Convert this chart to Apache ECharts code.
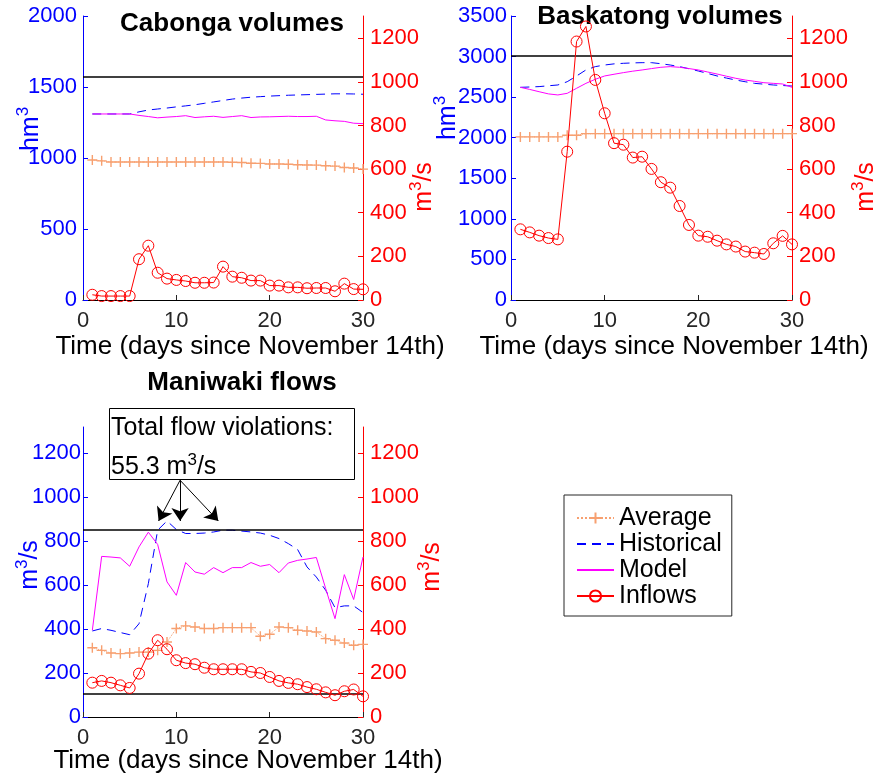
<!DOCTYPE html>
<html>
<head>
<meta charset="utf-8">
<title>Cabonga, Baskatong and Maniwaki</title>
<script src="https://cdn.jsdelivr.net/npm/echarts@6/dist/echarts.min.js"></script>
<style>
  html, body { margin: 0; padding: 0; background: #fff; }
  #chart { width: 878px; height: 781px; }
</style>
</head>
<body>
<div id="chart"></div>
<script>
  // days since November 14th
  var days = [1, 2, 3, 4, 5, 6, 7, 8, 9, 10, 11, 12, 13, 14, 15, 16, 17, 18, 19, 20,
    21, 22, 23, 24, 25, 26, 27, 28, 29, 30];

  // Cabonga (hm3 on the left, inflows m3/s on the right)
  var cabongaAverage = [986, 980, 972, 972, 972, 972, 972, 972, 972, 972, 972, 972, 972, 972, 972,
    970, 968, 963, 962, 958, 958, 956, 952, 951, 950, 945, 943, 933, 930, 922];
  var cabongaHistorical = [1310, 1310, 1310, 1310, 1310, 1325, 1338, 1345, 1352, 1360, 1367, 1375,
    1385, 1395, 1405, 1415, 1422, 1428, 1432, 1436, 1439, 1442, 1444, 1446, 1448, 1450, 1452, 1452,
    1451, 1449];
  var cabongaModel = [1310, 1310, 1310, 1310, 1310, 1300, 1292, 1283, 1288, 1292, 1298, 1285, 1290,
    1294, 1286, 1292, 1298, 1285, 1289, 1290, 1292, 1294, 1292, 1292, 1294, 1268, 1262, 1258, 1245,
    1242];
  var cabongaInflows = [24, 18, 18, 18, 18, 187, 249, 125, 98, 92, 87, 79, 79, 80, 153, 107, 102, 89,
    89, 66, 66, 58, 58, 54, 55, 55, 40, 75, 50, 49];
  var cabongaMax = 1570;

  // Baskatong
  var baskatongAverage = [2010, 2010, 2010, 2010, 2010, 2030, 2030, 2050, 2050, 2050, 2050, 2050,
    2050, 2050, 2050, 2050, 2050, 2050, 2050, 2050, 2050, 2050, 2050, 2050, 2050, 2050, 2050, 2050,
    2050, 2050];
  var baskatongHistorical = [2621, 2625, 2630, 2640, 2650, 2690, 2761, 2835, 2876, 2896, 2910, 2917,
    2922, 2925, 2925, 2912, 2896, 2876, 2850, 2822, 2792, 2761, 2735, 2711, 2690, 2670, 2660, 2650,
    2643, 2637];
  var baskatongModel = [2621, 2595, 2567, 2540, 2527, 2547, 2609, 2670, 2720, 2761, 2782, 2802, 2820,
    2835, 2852, 2868, 2876, 2868, 2852, 2835, 2810, 2785, 2758, 2732, 2711, 2695, 2678, 2670, 2662,
    2621];
  var baskatongInflows = [324, 310, 295, 284, 278, 680, 1185, 1254, 1009, 856, 719, 712, 653, 657, 601,
    540, 515, 431, 344, 295, 290, 272, 255, 245, 222, 217, 211, 260, 294, 255];
  var baskatongMax = 3015;

  // Maniwaki (m3/s on both sides)
  var maniwakiAverage = [315, 303, 291, 288, 291, 295, 295, 303, 341, 402, 414, 409, 402, 402, 406,
    406, 406, 406, 367, 376, 409, 406, 394, 391, 386, 356, 349, 336, 326, 330];
  var maniwakiHistorical = [391, 402, 394, 384, 374, 424, 606, 849, 891, 852, 834, 834, 836, 841, 849,
    849, 845, 841, 836, 826, 811, 788, 761, 682, 636, 576, 497, 505, 505, 475];
  var maniwakiModel = [394, 730, 727, 723, 685, 773, 840, 784, 614, 553, 702, 659, 649, 679, 656, 679,
    679, 702, 685, 693, 656, 700, 712, 718, 725, 584, 447, 647, 534, 727];
  var maniwakiInflows = [156, 164, 156, 144, 132, 197, 288, 349, 308, 258, 245, 240, 224, 217, 217,
    217, 217, 205, 200, 182, 164, 155, 149, 136, 126, 112, 99, 117, 125, 94];
  var maniwakiLimits = [850, 105];

  // annotation arrows (day, m3/s)
  var arrowFrom = [10.4, 1076];
  var arrowTargets = [[8.1, 891], [10.4, 891], [14.5, 891]];

  var FONT = '"Liberation Sans", Arial, sans-serif';
  var ORANGE = '#F7A070';
  var BLUE = '#0000FF';
  var RED = '#FF0000';
  var MAGENTA = '#FF00FF';
  var PLUS = 'path://M0,5L10,5M5,0L5,10';

  function pairs (vals) {
    return vals.map(function (v, i) { return [days[i], v]; });
  }

  function averageSeries (ax, vals) {
    return {
      name: 'Average', type: 'line', xAxisIndex: ax, yAxisIndex: ax * 2,
      data: pairs(vals), symbol: PLUS, symbolSize: 10, showAllSymbol: true,
      lineStyle: { color: ORANGE, width: 1, type: 'dotted' },
      itemStyle: { color: ORANGE, borderColor: ORANGE, borderWidth: 1.4 },
      z: 3
    };
  }
  function historicalSeries (ax, vals) {
    return {
      name: 'Historical', type: 'line', xAxisIndex: ax, yAxisIndex: ax * 2,
      data: pairs(vals), symbol: 'none',
      lineStyle: { color: BLUE, width: 1, type: [9, 6] },
      itemStyle: { color: BLUE },
      z: 4
    };
  }
  function modelSeries (ax, vals) {
    return {
      name: 'Model', type: 'line', xAxisIndex: ax, yAxisIndex: ax * 2,
      data: pairs(vals), symbol: 'none',
      lineStyle: { color: MAGENTA, width: 1 },
      itemStyle: { color: MAGENTA },
      z: 4
    };
  }
  function inflowSeries (ax, vals) {
    return {
      name: 'Inflows', type: 'line', xAxisIndex: ax, yAxisIndex: ax * 2 + 1,
      data: pairs(vals), symbol: 'circle', symbolSize: 11, showAllSymbol: true,
      lineStyle: { color: RED, width: 1 },
      itemStyle: { color: 'rgba(255,255,255,0)', borderColor: RED, borderWidth: 1 },
      z: 5
    };
  }
  function limitSeries (ax, values) {
    return {
      name: 'limits', type: 'line', xAxisIndex: ax, yAxisIndex: ax * 2, data: [],
      markLine: {
        silent: true, symbol: 'none', animation: false,
        label: { show: false },
        lineStyle: { color: '#000', width: 1.5, type: 'solid' },
        emphasis: { disabled: true },
        data: values.map(function (v) { return { yAxis: v }; })
      }
    };
  }

  function plainNumber (v) { return String(v); }

  function xAxis (grid) {
    return {
      type: 'value', gridIndex: grid, min: 0, max: 30, interval: 10,
      axisLine: { show: true, lineStyle: { color: '#000', width: 1 } },
      axisTick: { show: true, inside: true, length: 5, lineStyle: { color: '#262626' } },
      axisLabel: { color: '#262626', fontSize: 22, fontFamily: FONT, margin: 10, formatter: plainNumber },
      splitLine: { show: false }
    };
  }
  function yAxis (grid, side, max, interval, margin, showMax) {
    var color = side === 'left' ? BLUE : RED;
    return {
      type: 'value', gridIndex: grid, position: side, min: 0, max: max, interval: interval,
      axisLine: { show: true, onZero: false, lineStyle: { color: color, width: 1 } },
      axisTick: { show: true, inside: true, length: 5, lineStyle: { color: color } },
      axisLabel: {
        color: color, fontSize: 22, fontFamily: FONT, margin: margin,
        padding: [8, 0, 0, 0],
        showMaxLabel: showMax, formatter: plainNumber
      },
      splitLine: { show: false }
    };
  }

  function rotName (x, y, text, sup, rest, color) {
    return {
      type: 'text', x: x, y: y, rotation: Math.PI / 2, silent: true,
      style: {
        text: '{a|' + text + '}{s|' + sup + '}{a|' + rest + '}',
        align: 'center', verticalAlign: 'middle',
        rich: {
          a: { fontSize: 25, fontFamily: FONT, fill: color, lineHeight: 32 },
          s: { fontSize: 17, fontFamily: FONT, fill: color, lineHeight: 18, verticalAlign: 'top' }
        }
      }
    };
  }
  function plainText (x, y, text, font, align) {
    return {
      type: 'text', x: x, y: y, silent: true,
      style: { text: text, font: font, fill: '#000', align: align || 'center', verticalAlign: 'middle' }
    };
  }

  var arrowLines = arrowTargets.map(function (t) {
    return [{ coord: arrowFrom }, { coord: t }];
  });

  var chart = echarts.init(document.getElementById('chart'));
  chart.setOption({
    animation: false,
    backgroundColor: '#fff',
    grid: [
      { left: 83, top: 16, width: 280, height: 284 },
      { left: 511, top: 16, width: 281, height: 284 },
      { left: 83, top: 427, width: 280, height: 290 }
    ],
    xAxis: [xAxis(0), xAxis(1), xAxis(2)],
    yAxis: [
      yAxis(0, 'left', 2000, 500, 6, true),
      yAxis(0, 'right', 1302, 200, 7, false),
      yAxis(1, 'left', 3500, 500, 4, true),
      yAxis(1, 'right', 1302, 200, 7, false),
      yAxis(2, 'left', 1318, 200, 2, false),
      yAxis(2, 'right', 1318, 200, 7, false)
    ],
    legend: {
      data: [
        'Average',
        { name: 'Historical', itemStyle: { opacity: 0 } },
        { name: 'Model', itemStyle: { opacity: 0 } },
        'Inflows'
      ],
      orient: 'vertical', left: 564, top: 495,
      padding: [10, 10, 7, 12],
      borderColor: '#262626', borderWidth: 1, backgroundColor: '#fff',
      itemWidth: 37, itemHeight: 14, itemGap: 0,
      selectedMode: false,
      textStyle: { fontSize: 25, lineHeight: 26, color: '#000', fontFamily: FONT }
    },
    series: [
      limitSeries(0, [cabongaMax]),
      averageSeries(0, cabongaAverage),
      historicalSeries(0, cabongaHistorical),
      modelSeries(0, cabongaModel),
      inflowSeries(0, cabongaInflows),

      limitSeries(1, [baskatongMax]),
      averageSeries(1, baskatongAverage),
      historicalSeries(1, baskatongHistorical),
      modelSeries(1, baskatongModel),
      inflowSeries(1, baskatongInflows),

      limitSeries(2, maniwakiLimits),
      averageSeries(2, maniwakiAverage),
      historicalSeries(2, maniwakiHistorical),
      modelSeries(2, maniwakiModel),
      inflowSeries(2, maniwakiInflows),
      {
        name: 'arrows', type: 'line', xAxisIndex: 2, yAxisIndex: 4, data: [],
        markLine: {
          silent: true, animation: false,
          symbol: ['none', 'arrow'], symbolSize: 13,
          label: { show: false },
          lineStyle: { color: '#000', width: 1, type: 'solid' },
          itemStyle: { color: '#000' },
          emphasis: { disabled: true },
          data: arrowLines
        }
      }
    ],
    graphic: [
      plainText(232, 24, 'Cabonga volumes', 'bold 26px ' + FONT),
      plainText(660, 17, 'Baskatong volumes', 'bold 26px ' + FONT),
      plainText(242, 383, 'Maniwaki flows', 'bold 26px ' + FONT),
      plainText(250, 347, 'Time (days since November 14th)', '26px ' + FONT),
      plainText(674, 347, 'Time (days since November 14th)', '26px ' + FONT),
      plainText(248, 761, 'Time (days since November 14th)', '26px ' + FONT),
      rotName(31, 129, 'hm', '3', '', BLUE),
      rotName(424, 187, 'm', '3', '/s', RED),
      rotName(448, 118, 'hm', '3', '', BLUE),
      rotName(866, 187, 'm', '3', '/s', RED),
      rotName(30, 565, 'm', '3', '/s', BLUE),
      rotName(432, 567, 'm', '3', '/s', RED),
      {
        type: 'rect', silent: true, z: 10,
        shape: { x: 109.5, y: 408.5, width: 245, height: 71 },
        style: { fill: '#fff', stroke: '#000', lineWidth: 1 }
      },
      {
        type: 'text', x: 111, y: 428, silent: true, z: 11,
        style: { text: 'Total flow violations:', font: '25px ' + FONT, fill: '#000', align: 'left', verticalAlign: 'middle' }
      },
      {
        type: 'text', x: 111, y: 467, silent: true, z: 11,
        style: {
          text: '{a|55.3 m}{s|3}{a|/s}', align: 'left', verticalAlign: 'middle',
          rich: {
            a: { fontSize: 25, fontFamily: FONT, fill: '#000', lineHeight: 30 },
            s: { fontSize: 17, fontFamily: FONT, fill: '#000', lineHeight: 17, verticalAlign: 'top' }
          }
        }
      }
    ]
  });
</script>
</body>
</html>
